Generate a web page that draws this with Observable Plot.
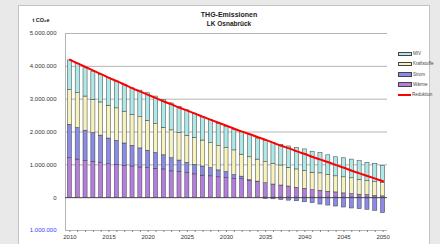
<!DOCTYPE html>
<html><head><meta charset="utf-8">
<script src="https://cdn.jsdelivr.net/npm/d3@7"></script>
<script src="https://cdn.jsdelivr.net/npm/@observablehq/plot@0.6"></script>
<style>
html,body{margin:0;padding:0;}
body{width:440px;height:244px;background:#e9e9e9;position:relative;overflow:hidden;font-family:"Liberation Sans",Arial,sans-serif;}
#box{position:absolute;left:18px;top:5px;width:410px;height:245px;background:#fff;border:1px solid #c4c4c4;}
#chart{position:absolute;left:0;top:0;}
.t{position:absolute;font-weight:bold;color:#222;white-space:nowrap;transform:translateX(-50%);text-align:center;}
#legend{position:absolute;left:398px;top:51px;}
.li{position:absolute;left:0;height:6px;white-space:nowrap;font-size:4.5px;color:#444;line-height:6px;}
.sw{display:inline-block;width:12px;height:2.5px;border:0.5px solid #444;vertical-align:middle;margin-right:1px;}
.ln{display:inline-block;width:13px;height:1.5px;vertical-align:middle;margin-right:1px;}
</style></head>
<body>
<div id="box"></div>
<div id="chart"></div>
<div class="t" style="left:229px;top:11px;font-size:7px;">THG-Emissionen</div>
<div class="t" style="left:229px;top:20px;font-size:6.5px;">LK Osnabrück</div>
<div class="t" style="left:41px;top:17px;font-size:5.5px;">t CO₂e</div>
<div id="legend"></div>
<script>
const years = [2010,2011,2012,2013,2014,2015,2016,2017,2018,2019,2020,2021,2022,2023,2024,2025,2026,2027,2028,2029,2030,2031,2032,2033,2034,2035,2036,2037,2038,2039,2040,2041,2042,2043,2044,2045,2046,2047,2048,2049,2050];
const waerme = [1.20,1.16,1.12,1.09,1.05,1.02,1.00,0.97,0.95,0.92,0.90,0.88,0.86,0.80,0.78,0.75,0.71,0.67,0.65,0.62,0.60,0.57,0.56,0.50,0.47,0.44,0.40,0.37,0.34,0.30,0.27,0.23,0.21,0.18,0.16,0.13,0.11,0.09,0.08,0.05,0.04];
const strom = [1.02,0.96,0.92,0.88,0.84,0.78,0.73,0.68,0.63,0.58,0.53,0.48,0.43,0.40,0.35,0.31,0.29,0.28,0.25,0.21,0.18,0.12,0.08,0.03,0.02,-0.04,-0.05,-0.07,-0.09,-0.11,-0.14,-0.17,-0.21,-0.24,-0.27,-0.30,-0.33,-0.35,-0.37,-0.40,-0.47];
const kraftstoffe = [1.06,1.06,1.04,1.01,1.01,1.00,0.99,0.97,0.94,0.95,0.91,0.88,0.84,0.85,0.84,0.82,0.82,0.79,0.76,0.74,0.73,0.75,0.67,0.70,0.67,0.64,0.63,0.61,0.57,0.56,0.54,0.53,0.53,0.51,0.49,0.49,0.48,0.45,0.42,0.42,0.40];
const miv = [0.90,0.90,0.86,0.86,0.84,0.84,0.82,0.81,0.81,0.81,0.84,0.84,0.84,0.82,0.79,0.78,0.74,0.72,0.70,0.68,0.64,0.63,0.69,0.67,0.64,0.64,0.63,0.63,0.65,0.66,0.66,0.64,0.62,0.60,0.58,0.58,0.57,0.57,0.56,0.56,0.53];
const reduktion = [4.20,4.09,3.98,3.87,3.76,3.65,3.55,3.44,3.33,3.23,3.13,3.03,2.93,2.84,2.74,2.65,2.56,2.46,2.37,2.28,2.19,2.10,2.01,1.93,1.84,1.76,1.67,1.58,1.50,1.41,1.33,1.24,1.16,1.08,0.99,0.91,0.82,0.74,0.66,0.58,0.50];
const seriesNames = ["Wärme","Strom","Kraftstoffe","MIV"];
const seriesColors = ["#b47ede","#8a8ae8","#f6f2bc","#ade9e9"];
const legendNames = ["MIV","Kraftstoffe","Strom","Wärme","Reduktion"];
const yTicks = [0,1,2,3,4,5];
const yNegTicks = [-1];
const lineColor = "#ff0000";

const seriesValues = [waerme, strom, kraftstoffe, miv];
const table = [];
years.forEach((yr, i) => seriesNames.forEach((s, j) => table.push({year: yr, series: s, value: seriesValues[j][i] * 1e6})));
const redData = years.map((yr, i) => ({year: yr, v: reduktion[i] * 1e6}));

const loc = d3.formatLocale({decimal: ",", thousands: ".", grouping: [3], currency: ["", "€"]});
const fmt = loc.format(",d");

const chart = Plot.plot({
  width: 440, height: 244,
  marginLeft: 65, marginRight: 53, marginTop: 33, marginBottom: 14,
  style: {background: "transparent", fontFamily: "Liberation Sans, Arial, sans-serif", fontSize: "6px", color: "#333"},
  x: {type: "band", domain: years, paddingInner: 0.48, paddingOuter: 0.3, label: null},
  y: {domain: [-1e6, 5e6], label: null},
  color: {domain: seriesNames, range: seriesColors},
  marks: [
    Plot.ruleY(yTicks.slice(1).map(d => d * 1e6), {stroke: "#b4b4b4", strokeWidth: 1}),
    Plot.ruleY([-1e6], {stroke: "#b4b4b4", strokeWidth: 1}),
    Plot.frame({anchor: "left", stroke: "#b4b4b4"}),
    Plot.barY(table, {x: "year", y: "value", fill: "series", stroke: "#3c3c3c", strokeWidth: 0.5}),
    Plot.ruleY([0], {stroke: "#444", strokeWidth: 1}),
    Plot.line(redData, {x: "year", y: "v", stroke: lineColor, strokeWidth: 2, curve: "monotone-x"}),
    Plot.axisY({ticks: yTicks.map(d => d * 1e6), tickSize: 0, tickPadding: 9, tickFormat: fmt, fill: "#333"}),
    Plot.axisY({ticks: yNegTicks.map(d => d * 1e6), tickSize: 0, tickPadding: 9, tickFormat: d => fmt(Math.abs(d)), fill: "#3838ff"}),
    Plot.axisX({ticks: years, tickSize: 2, tickPadding: 2, stroke: "#888", fill: "#333", tickFormat: d => d % 5 === 0 ? String(d) : ""})
  ]
});
document.getElementById("chart").appendChild(chart);

const legendColors = {"MIV": seriesColors[3], "Kraftstoffe": seriesColors[2], "Strom": seriesColors[1], "Wärme": seriesColors[0]};
const lg = document.getElementById("legend");
legendNames.forEach((n, i) => {
  const d = document.createElement("div");
  d.className = "li";
  d.style.top = (i * 10.3) + "px";
  const s = document.createElement("span");
  if (n === "Reduktion") { s.className = "ln"; s.style.background = lineColor; }
  else { s.className = "sw"; s.style.background = legendColors[n]; }
  d.appendChild(s);
  d.appendChild(document.createTextNode(n));
  lg.appendChild(d);
});
</script>
</body></html>
